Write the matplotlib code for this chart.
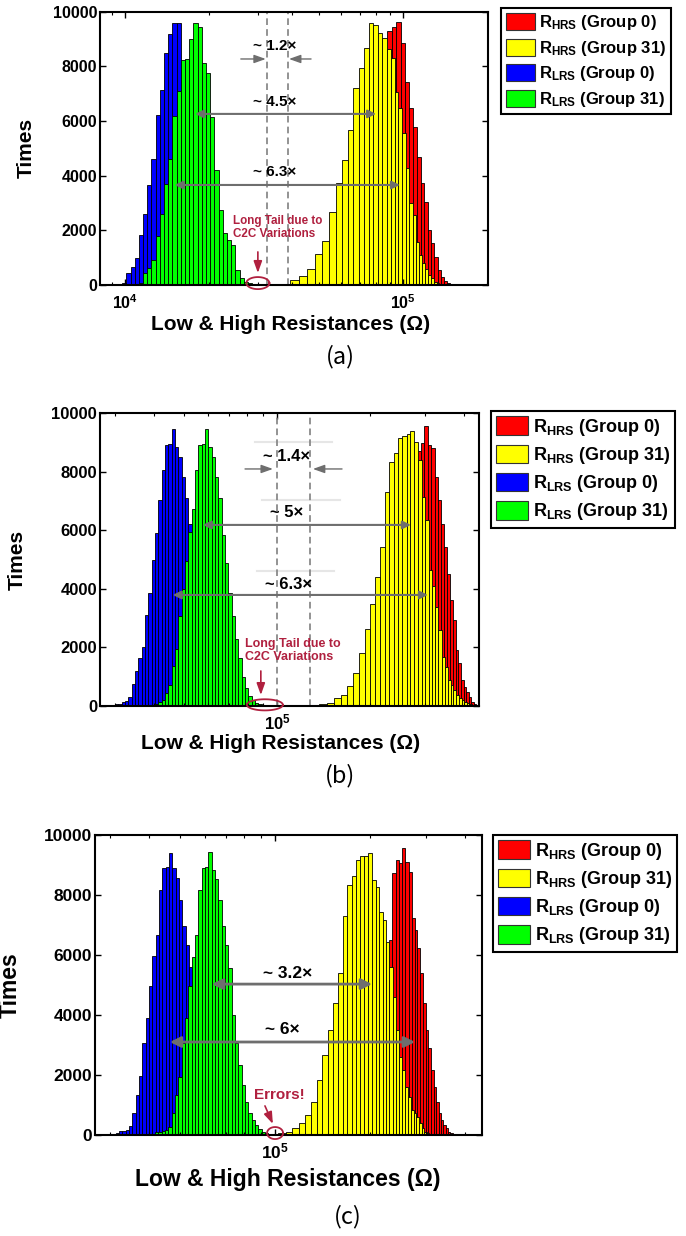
import numpy as np
import matplotlib
matplotlib.use('Agg')
import matplotlib.pyplot as plt
from matplotlib.patches import Patch
from matplotlib.ticker import FuncFormatter, NullFormatter

plt.rcParams['font.family'] = ['Liberation Sans', 'DejaVu Sans']
plt.rcParams['mathtext.fontset'] = 'custom'
plt.rcParams['mathtext.rm'] = 'Liberation Sans'
plt.rcParams['mathtext.bf'] = 'Liberation Sans:bold'
plt.rcParams['mathtext.it'] = 'Liberation Sans:italic'

# ---------------- data ----------------
# HRS histograms use linear bins: (first bin centre [ohm], bin width [ohm])
# LRS histograms use log bins: (first bin centre [log10 ohm], bin width [decades])

# panel (a)
a_red_start, a_red_bin = 44.0e3, 3.5e3
a_red = [10, 20, 40, 80, 150, 250, 400, 650, 1000, 2000, 3500, 5500, 7500, 9300, 9450, 9630,
         8840, 7440, 6460, 5770, 4700, 3720, 3050, 2010, 1520, 1040, 550, 300, 160, 85, 37, 10]
a_yellow_start, a_yellow_bin = 37.8e3, 3.0e3
a_yellow = [37, 180, 340, 570, 1120, 1610, 2670, 3740, 4560, 5660, 7200, 7930, 8680, 9570, 9520,
            9210, 9020, 8630, 8290, 7070, 6460, 5550, 4270, 3010, 2560, 1580, 1100, 790, 600, 370,
            240, 120, 60, 20, 10, 5]
a_blue_start, a_blue_bin = 3.982, 0.0151
a_blue = [37, 85, 427, 670, 975, 1830, 2600, 3660, 4600, 6220, 7130, 8480, 9180, 9570, 9570,
          8100, 7400, 6600, 5600, 4600, 3600, 2700, 1900, 1200, 700, 380, 180, 80, 30]
a_green_start, a_green_bin = 4.042, 0.0151
a_green = [20, 85, 430, 610, 900, 1800, 2600, 3700, 4600, 6200, 7100, 8230, 8260, 9000, 9570,
           9450, 8110, 7770, 6160, 4200, 2740, 1910, 1650, 1460, 550, 240, 120, 60, 25, 10,
           20, 40, 15]

# panel (b)
b_red_start, b_red_bin = 178.2e3, 7.8e3
b_red = [30, 60, 120, 250, 450, 800, 1300, 2000, 2900, 3900, 5000, 6100, 7200, 8300, 8700,
         8960, 9560, 8900, 8790, 7830, 7030, 6200, 5440, 4500, 3620, 2940, 1910, 1460, 890,
         650, 480, 320, 150, 80, 40]
b_yellow_start, b_yellow_bin = 141e3, 7.8e3
b_yellow = [70, 110, 260, 375, 680, 1110, 1820, 2620, 3480, 4410, 5440, 7320, 8340, 8650, 9130,
            9220, 9280, 9400, 9020, 8400, 7140, 6350, 4640, 4100, 3390, 2590, 1680, 1340, 890,
            720, 550, 375, 260, 200, 150, 90, 70, 40]
b_blue_start, b_blue_bin = 4.483, 0.01075
b_blue = [70, 70, 150, 170, 320, 750, 1200, 1650, 2030, 3100, 3870, 4980, 5890, 7030, 8050,
          8900, 8950, 9440, 8850, 8510, 7800, 7090, 6200, 5400, 4400, 3500, 2600, 1800, 1200,
          700, 400, 200, 100, 50]
b_green_start, b_green_bin = 4.601, 0.01075
b_green = [10, 70, 150, 200, 450, 720, 1350, 1950, 3060, 3980, 4940, 5930, 6720, 8050, 8900,
           8950, 9440, 8850, 8510, 7800, 7090, 5840, 4870, 3870, 3070, 2300, 1650, 1000, 600,
           350, 200, 100, 60, 40, 30, 50, 30, 20, 10]

# panel (c)
c_red_start, c_red_bin = 161.3e3, 5.9e3
c_red = [20, 50, 100, 200, 350, 600, 1000, 1500, 2200, 3000, 4000, 5200, 6500, 8720, 9170,
         9060, 9560, 9100, 8780, 7220, 6830, 6220, 5390, 4390, 3500, 2890, 2170, 1610, 1110,
         720, 500, 330, 220, 110, 55, 30, 15, 10]
c_yellow_start, c_yellow_bin = 94e3, 5.56e3
c_yellow = [15, 30, 55, 110, 220, 390, 670, 1110, 1830, 2670, 3500, 4390, 5410, 7300, 8330,
            8630, 9170, 9300, 9300, 9410, 8500, 8280, 7440, 7170, 6440, 5610, 4610, 3500, 2610,
            2170, 1610, 1280, 830, 720, 610, 390, 220, 110, 55, 20]
c_blue_start, c_blue_bin = 4.48, 0.01055
c_blue = [10, 30, 60, 130, 140, 170, 300, 720, 1330, 1980, 3060, 3890, 4970, 5980, 6680, 8170,
          8890, 8940, 9410, 8890, 8560, 7830, 6960, 6330, 5600, 4600, 3700, 2800, 2000, 1300,
          800, 450, 250, 120, 60, 30, 10]
c_green_start, c_green_bin = 4.604, 0.01055
c_green = [10, 30, 110, 100, 140, 170, 280, 720, 1330, 1940, 3060, 3890, 4970, 5930, 6680,
           8170, 8890, 8940, 9440, 8850, 8520, 7830, 6960, 6330, 5560, 4000, 3060, 2330, 1670,
           1100, 720, 500, 330, 200, 110, 60, 30, 20, 10]

y_ticks = [0, 2000, 4000, 6000, 8000, 10000]
legend_labels = [r'$\mathbf{R_{HRS}}$ (Group 0)', r'$\mathbf{R_{HRS}}$ (Group 31)',
                 r'$\mathbf{R_{LRS}}$ (Group 0)', r'$\mathbf{R_{LRS}}$ (Group 31)']
colors = ['#ff0000', '#ffff00', '#0000ff', '#00ff00']
xlabel = 'Low & High Resistances (\u03a9)'

grey = '#6e6e6e'
crimson = '#b0203f'


def lin_edges(c0, w, n):
    c = c0 + w * np.arange(n)
    return c - w / 2, c + w / 2


def log_edges(c0, w, n):
    c = c0 + w * np.arange(n)
    return 10 ** (c - w / 2), 10 ** (c + w / 2)


def draw_hist(ax, edges, counts, color):
    lo, hi = edges
    ax.bar(lo, counts, width=hi - lo, align='edge', color=color,
           edgecolor='k', linewidth=0.6)


def setup(ax, xlim, fs_tick, fs_lab, ylab_x, xlab_xy, xpad):
    ax.set_xscale('log')
    ax.set_xlim(*xlim)
    ax.set_ylim(0, 10000)
    ax.set_yticks(y_ticks)
    ax.set_yticklabels([str(v) for v in y_ticks], fontweight='bold', fontsize=fs_tick)
    ax.xaxis.set_major_formatter(FuncFormatter(
        lambda v, p: r'$\mathbf{10^{%d}}$' % round(np.log10(v))))
    ax.xaxis.set_minor_formatter(NullFormatter())
    ax.tick_params(which='both', direction='in', top=True, right=True)
    ax.tick_params(axis='x', which='major', labelsize=fs_tick, pad=xpad)
    ax.tick_params(axis='y', which='major', pad=2)
    ax.tick_params(which='major', length=4, width=1)
    ax.tick_params(which='minor', length=2.5, width=0.8)
    for s in ax.spines.values():
        s.set_linewidth(1.5)
    ax.set_ylabel('Times', fontsize=fs_lab, fontweight='bold')
    ax.yaxis.set_label_coords(ylab_x, 0.5)
    ax.set_xlabel(xlabel, fontsize=fs_lab, fontweight='bold')
    ax.xaxis.set_label_coords(*xlab_xy)


def double_arrow(ax, x1, x2, y, lw=1.5, ms=12):
    ax.annotate('', xy=(x2, y), xytext=(x1, y),
                arrowprops=dict(arrowstyle='<|-|>', color=grey, lw=lw,
                                mutation_scale=ms, shrinkA=0, shrinkB=0))


def single_arrow(ax, x1, x2, y, color=grey, lw=1.0, ms=10, y2=None):
    ax.annotate('', xy=(x2, y if y2 is None else y2), xytext=(x1, y),
                arrowprops=dict(arrowstyle='-|>,head_width=0.25,head_length=0.7',
                                color=color, lw=lw, mutation_scale=ms,
                                shrinkA=0, shrinkB=0))


def ellipse(ax, lx, yc, hw, hh):
    t = np.linspace(0, 2 * np.pi, 120)
    ax.plot(10 ** (lx + hw * np.cos(t)), yc + hh * np.sin(t), color=crimson,
            lw=1.3, clip_on=False, zorder=5)


def legend(fig, x, y, fs):
    handles = [Patch(facecolor=c, edgecolor='#333333', linewidth=0.8) for c in colors]
    leg = fig.legend(handles, legend_labels, loc='upper left', bbox_to_anchor=(x, y),
                     bbox_transform=fig.transFigure, prop=dict(weight='bold', size=fs),
                     fancybox=False, edgecolor='k', framealpha=1, handlelength=1.75,
                     handleheight=1.2, labelspacing=0.38, borderpad=0.3,
                     handletextpad=0.25, borderaxespad=0)
    leg.get_frame().set_linewidth(1.5)


W, H = 686, 1236
fig = plt.figure(figsize=(W / 100, H / 100), dpi=100)


def add_axes(l, r, t, b):
    return fig.add_axes([l / W, 1 - b / H, (r - l) / W, (b - t) / H])


# ---------------- (a) ----------------
ax = add_axes(100, 488, 11.7, 285)
draw_hist(ax, lin_edges(a_red_start, a_red_bin, len(a_red)), a_red, colors[0])
draw_hist(ax, lin_edges(a_yellow_start, a_yellow_bin, len(a_yellow)), a_yellow, colors[1])
draw_hist(ax, log_edges(a_blue_start, a_blue_bin, len(a_blue)), a_blue, colors[2])
draw_hist(ax, log_edges(a_green_start, a_green_bin, len(a_green)), a_green, colors[3])
setup(ax, (10 ** 3.91, 10 ** 5.306), 11.5, 15, -0.165, (0.49, -0.11), 6)
for xv in (32.4e3, 38.5e3):
    ax.axvline(xv, color='#808080', lw=1.2, ls=(0, (4, 2.5)))
ax.text(34.5e3, 8745, '~ 1.2\u00d7', ha='center', va='center', fontsize=11, fontweight='bold')
single_arrow(ax, 26.1e3, 32.1e3, 8270)
single_arrow(ax, 46.7e3, 38.9e3, 8270)
ax.text(34.5e3, 6700, '~ 4.5\u00d7', ha='center', va='center', fontsize=11, fontweight='bold')
double_arrow(ax, 17.9e3, 80e3, 6260)
ax.text(34.5e3, 4135, '~ 6.3\u00d7', ha='center', va='center', fontsize=11, fontweight='bold')
double_arrow(ax, 15.1e3, 97.5e3, 3660)
ax.text(24.4e3, 2120, 'Long Tail due to\nC2C Variations', ha='left', va='center',
        fontsize=8.4, fontweight='bold', color=crimson, linespacing=1.1)
single_arrow(ax, 10 ** 4.478, 10 ** 4.478, 1210, color=crimson, lw=1.2, y2=440)
ellipse(ax, 4.478, 70, 0.0414, 220)
legend(fig, 501 / W, 1 - 8 / H, 12)

# ---------------- (b) ----------------
ax = add_axes(100, 479, 413, 706)
draw_hist(ax, lin_edges(b_red_start, b_red_bin, len(b_red)), b_red, colors[0])
draw_hist(ax, lin_edges(b_yellow_start, b_yellow_bin, len(b_yellow)), b_yellow, colors[1])
draw_hist(ax, log_edges(b_blue_start, b_blue_bin, len(b_blue)), b_blue, colors[2])
draw_hist(ax, log_edges(b_green_start, b_green_bin, len(b_green)), b_green, colors[3])
setup(ax, (10 ** 4.429, 10 ** 5.652), 12, 15, -0.193, (0.476, -0.095), 5)
for lx, y in ((4.929, 9010), (4.952, 7030), (4.935, 4610)):
    ax.plot([10 ** lx, 10 ** (lx + 0.25)], [y, y], color='#e6e6e6', lw=1.5)
for xv in (1e5, 10 ** 5.106):
    ax.axvline(xv, color='#808080', lw=1.2, ls=(0, (4, 2.5)))
ax.text(10 ** 5.032, 8500, '~ 1.4\u00d7', ha='center', va='center', fontsize=12, fontweight='bold')
single_arrow(ax, 10 ** 4.897, 10 ** 4.987, 8090)
single_arrow(ax, 10 ** 5.21, 10 ** 5.116, 8090)
ax.text(10 ** 5.032, 6590, '~ 5\u00d7', ha='center', va='center', fontsize=12, fontweight='bold')
double_arrow(ax, 10 ** 4.761, 10 ** 5.432, 6180)
ax.text(10 ** 5.039, 4160, '~ 6.3\u00d7', ha='center', va='center', fontsize=12, fontweight='bold')
double_arrow(ax, 10 ** 4.664, 10 ** 5.487, 3790)
ax.text(10 ** 4.897, 1880, 'Long Tail due to\nC2C Variations', ha='left', va='center',
        fontsize=9, fontweight='bold', color=crimson, linespacing=1.1)
single_arrow(ax, 10 ** 4.948, 10 ** 4.948, 1195, color=crimson, lw=1.2, y2=375)
ellipse(ax, 4.961, 40, 0.058, 190)
legend(fig, 491 / W, 1 - 411 / H, 13)

# ---------------- (c) ----------------
ax = add_axes(95, 482, 835, 1135)
draw_hist(ax, lin_edges(c_red_start, c_red_bin, len(c_red)), c_red, colors[0])
draw_hist(ax, lin_edges(c_yellow_start, c_yellow_bin, len(c_yellow)), c_yellow, colors[1])
draw_hist(ax, log_edges(c_blue_start, c_blue_bin, len(c_blue)), c_blue, colors[2])
draw_hist(ax, log_edges(c_green_start, c_green_bin, len(c_green)), c_green, colors[3])
setup(ax, (10 ** 4.43, 10 ** 5.655), 12.5, 16.5, -0.189, (0.497, -0.11), 5)
ax.text(10 ** 5.041, 5400, '~ 3.2\u00d7', ha='center', va='center', fontsize=12.5, fontweight='bold')
double_arrow(ax, 10 ** 4.80, 10 ** 5.307, 5030, lw=2, ms=16)
ax.text(10 ** 5.022, 3500, '~ 6\u00d7', ha='center', va='center', fontsize=12.5, fontweight='bold')
double_arrow(ax, 10 ** 4.667, 10 ** 5.443, 3100, lw=2, ms=16)
ax.text(10 ** 5.015, 1330, 'Errors!', ha='center', va='center', fontsize=11,
        fontweight='bold', color=crimson)
single_arrow(ax, 10 ** 4.968, 10 ** 4.993, 970, color=crimson, lw=1.2, y2=370)
ellipse(ax, 5.0, 65, 0.0253, 200)
legend(fig, 493 / W, 1 - 835 / H, 13)

# captions
for label, x, y in (('(a)', 340, 357), ('(b)', 340, 776), ('(c)', 348, 1217)):
    fig.text(x / W, 1 - y / H, label, ha='center', va='center', fontsize=17,
             family=['Noto Sans CJK SC', 'DejaVu Sans'], fontweight='light')

fig.savefig('out.png', dpi=100)
